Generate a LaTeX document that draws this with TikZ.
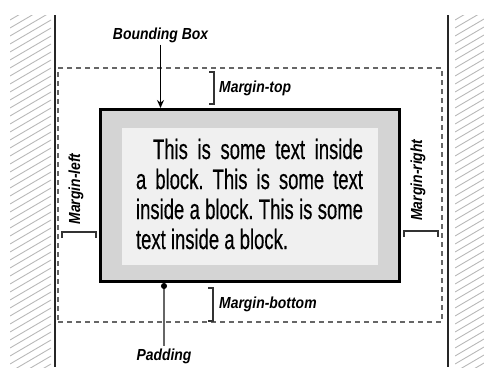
\documentclass[tikz,border=0pt]{standalone}
\usepackage{fontspec}
\usepackage{xcolor}
\usetikzlibrary{arrows.meta,positioning,calc}
\newfontfamily\blockfont[FakeStretch=0.66, FakeBold=0.4]{Liberation Sans}
\newfontfamily\labelfont[FakeStretch=0.87]{Liberation Sans}
\definecolor{padgray}{HTML}{D4D4D4}
\definecolor{contentgray}{HTML}{F0F0F0}
\definecolor{hatchgray}{HTML}{B8B8B8}
\frenchspacing

\begin{document}
\begin{tikzpicture}[x=1pt, y=-1pt, >=Stealth,
    font=\labelfont\bfseries\itshape\fontsize{16}{18}\selectfont,
    wall/.style={line width=2.5pt, black!85},
    hatch/.style={hatchgray, line width=0.9pt},
    marginbox/.style={rectangle, draw=black!60, line width=1.5pt, dash pattern=on 5pt off 4pt, minimum width=384pt, minimum height=254pt},
    blockbox/.style={rectangle, draw, fill=padgray, line width=3pt, minimum width=299pt, minimum height=172pt},
    contentbox/.style={rectangle, fill=contentgray, minimum width=256pt, minimum height=137pt},
    bodytext/.style={text width=227pt, align=justify, inner sep=0pt, font=\blockfont\fontsize{28}{30}\selectfont},
    bracket/.style={line width=1.2pt, black!80},
    lbl/.style={inner sep=2pt}]
    \clip (0,0) rectangle (484,367);
    \begin{scope}
        \clip (10,15) rectangle (51,367);
        \foreach \y in {20,28,...,400} \draw[hatch] (10,\y) -- (51,\y-24);
    \end{scope}
    \begin{scope}
        \clip (455,15) rectangle (484,367);
        \foreach \y in {20,28,...,400} \draw[hatch] (455,\y) -- (496,\y-24);
    \end{scope}
    \node[marginbox] (margin) at (250,195) {};
    \draw[wall] (55,15) -- (55,367);
    \draw[wall] (448,15) -- (448,367);
    \node[blockbox] (block) at (250,195.5) {};
    \node[contentbox] (content) at (250,196.5) {};
    \node[bodytext] (body) at (249.5,194) {\noindent\hspace*{17pt}This is some text inside\linebreak a block. This is some text\linebreak inside a block. This is some\linebreak text inside a block.};
    \node[lbl] (bbox) at (160.5,35) {Bounding Box};
    \node[lbl, anchor=west] (mtop) at (217,88) {Margin-top};
    \node[lbl, anchor=west] (mbottom) at (217,304) {Margin-bottom};
    \node[lbl, rotate=90] (mleft) at (76,189) {Margin-left};
    \node[lbl, rotate=90] (mright) at (418,180) {Margin-right};
    \node[lbl] (pad) at (164,356) {Padding};
    \draw[-{Stealth[length=8pt, width=7pt]}, line width=1.2pt] (bbox) -- (bbox |- block.north);
    \draw[{Circle[length=6pt, black]}-, line width=1.2pt, black!60] (pad |- block.south) -- (pad);
    \coordinate (mt-a) at (214,72);
    \coordinate (mt-b) at (214,104);
    \coordinate (mb-a) at (213,288);
    \coordinate (mb-b) at (213,321);
    \coordinate (ml-a) at (62,232);
    \coordinate (ml-b) at (96,232);
    \coordinate (mr-a) at (404,231);
    \coordinate (mr-b) at (438,231);
    \draw[bracket] ($(mt-a)+(-5,0)$) -- (mt-a) -- (mt-b) -- ($(mt-b)+(-5,0)$);
    \draw[bracket] ($(mb-a)+(-5,0)$) -- (mb-a) -- (mb-b) -- ($(mb-b)+(-5,0)$);
    \draw[bracket] ($(ml-a)+(0,6)$) -- (ml-a) -- (ml-b) -- ($(ml-b)+(0,6)$);
    \draw[bracket] ($(mr-a)+(0,6)$) -- (mr-a) -- (mr-b) -- ($(mr-b)+(0,6)$);
\end{tikzpicture}
\end{document}
